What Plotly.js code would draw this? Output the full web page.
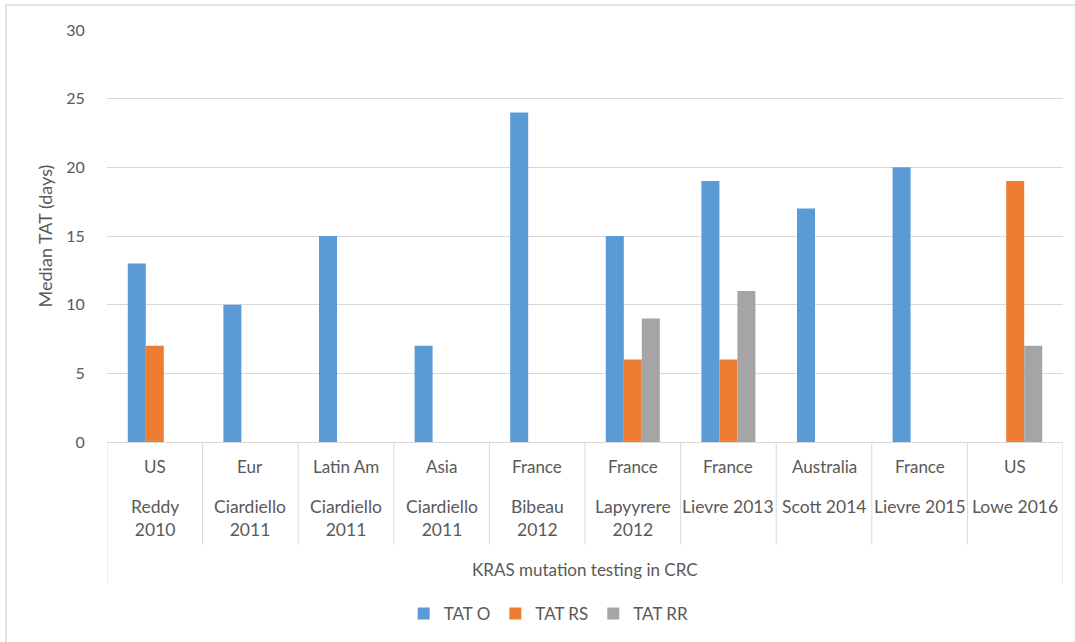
<!DOCTYPE html>
<html>
<head>
<meta charset="utf-8">
<script src="https://cdn.plot.ly/plotly-3.0.1.min.js"></script>
<style>html,body{margin:0;padding:0;background:#fff;}#chart{width:1075px;height:642px;}</style>
</head>
<body>
<div id="chart"></div>
<script>
// ---- data ----
const regions = ["US","Eur","Latin Am","Asia","France","France","France","Australia","France","US"];
const studies = ["Reddy<br>2010","Ciardiello<br>2011","Ciardiello<br>2011","Ciardiello<br>2011","Bibeau<br>2012","Lapyyrere<br>2012","Lievre 2013","Scott 2014","Lievre 2015","Lowe 2016"];
const outerLabel = "KRAS mutation testing in CRC";
const tatO  = [13, 10, 15, 7, 24, 15, 19, 17, 20, null];
const tatRS = [7, null, null, null, null, 6, 6, null, null, 19];
const tatRR = [null, null, null, null, null, 9, 11, null, null, 7];
const seriesNames = ["TAT O","TAT RS","TAT RR"];
const yTicks = [0,5,10,15,20,25,30];

// ---- layout helpers ----
const FONT = "Lato, 'Open Sans', sans-serif";
const TXT = "#595959";
const LINE = "#d9d9d9";
const idx = regions.map((_, i) => i);
const plotTop = 30, plotBottom = 443, plotH = plotBottom - plotTop;
const py = px => (plotBottom - px) / plotH;

const colors = ["#5b9bd5","#ed7d31","#a5a5a5"];
const series = [tatO, tatRS, tatRR];
const traces = series.map((vals, k) => ({
  type: "bar", x: idx, y: vals, name: seriesNames[k],
  marker: {color: colors[k]}, hoverinfo: "skip"
}));

const shapes = [];
for (let i = 0; i <= regions.length; i++) {
  const outer = (i === 0 || i === regions.length);
  shapes.push({type: "line", xref: "x", yref: "paper", x0: i - 0.5, x1: i - 0.5,
    y0: 0, y1: outer ? py(585) : py(546), line: {color: LINE, width: 1}});
}
// outer chart frame
shapes.push({type: "rect", xref: "paper", yref: "paper",
  x0: (6 - 107) / 956, x1: 1.2, y0: -1, y1: py(5), line: {color: LINE, width: 1.5}, fillcolor: "rgba(0,0,0,0)"});

const annotations = [];
regions.forEach((r, i) => annotations.push({xref: "x", yref: "paper", x: i, y: py(468),
  text: r, showarrow: false, xanchor: "center", yanchor: "middle", font: {family: FONT, size: 17, color: TXT}}));
studies.forEach((s, i) => annotations.push({xref: "x", yref: "paper", x: i, y: py(495),
  text: s, showarrow: false, xanchor: "center", yanchor: "top", font: {family: FONT, size: 17.5, color: TXT}}));
annotations.push({xref: "paper", yref: "paper", x: 0.5, y: py(571), text: outerLabel,
  showarrow: false, xanchor: "center", yanchor: "middle", font: {family: FONT, size: 17, color: TXT}});

const layout = {
  width: 1075, height: 642,
  margin: {l: 107, r: 12, t: plotTop, b: 642 - plotBottom},
  paper_bgcolor: "#fff", plot_bgcolor: "#fff",
  font: {family: FONT, size: 16, color: TXT},
  barmode: "group", bargap: 0.435, bargroupgap: 0,
  showlegend: true,
  legend: {orientation: "h", x: 0.462, xanchor: "center", y: py(614), yanchor: "middle",
    font: {family: FONT, size: 17, color: TXT}, itemwidth: 30, tracegroupgap: 0},
  xaxis: {range: [-0.5, regions.length - 0.5], showticklabels: false, ticks: "",
    showgrid: false, zeroline: false, showline: true, linecolor: LINE, linewidth: 1, fixedrange: true},
  yaxis: {range: [0, 30], tickvals: yTicks, ticktext: yTicks.map(String),
    showgrid: true, gridcolor: LINE, gridwidth: 1, zeroline: false, showline: false,
    ticks: "outside", ticklen: 18, tickcolor: "rgba(0,0,0,0)",
    tickfont: {family: FONT, size: 16, color: TXT},
    title: {text: "Median TAT (days)", font: {family: FONT, size: 18, color: TXT}, standoff: 8}},
  shapes: shapes, annotations: annotations
};

Plotly.newPlot("chart", traces, layout, {staticPlot: true, displayModeBar: false});
</script>
</body>
</html>
